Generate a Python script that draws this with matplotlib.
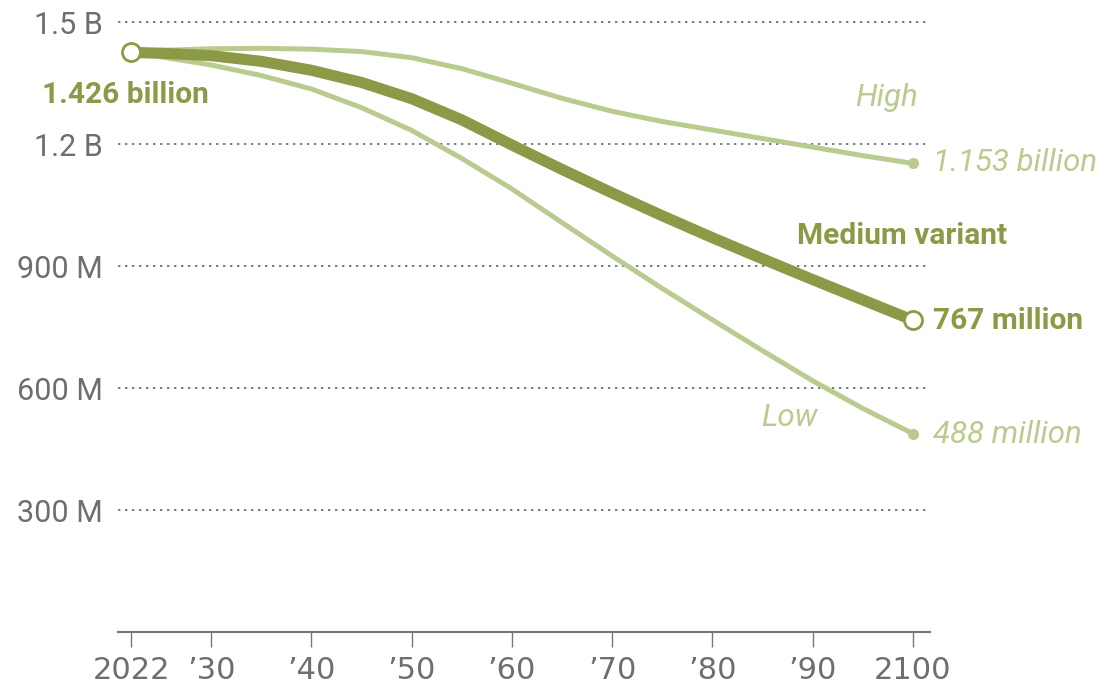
import numpy as np
import matplotlib
matplotlib.use("Agg")
import matplotlib.pyplot as plt

# projections (millions of people)
years = [2022, 2025, 2030, 2035, 2040, 2045, 2050, 2055, 2060,
         2065, 2070, 2075, 2080, 2085, 2090, 2095, 2100]
medium = [1426, 1424, 1418, 1404, 1382, 1352, 1312, 1260, 1198,
          1138, 1080, 1024, 970, 918, 867, 817, 767]
high = [1426, 1431, 1435, 1436, 1434, 1428, 1413, 1386, 1350,
        1313, 1281, 1256, 1235, 1214, 1193, 1172, 1153]
low = [1426, 1415, 1395, 1369, 1336, 1290, 1234, 1165, 1090,
       1007, 925, 845, 768, 692, 618, 550, 488]

xticks = [2022, 2030, 2040, 2050, 2060, 2070, 2080, 2090, 2100]
xticklabels = ["2022", "\u201930", "\u201940", "\u201950", "\u201960",
               "\u201970", "\u201980", "\u201990", "2100"]
yticks = [300e6, 600e6, 900e6, 1.2e9, 1.5e9]
yticklabels = ["300 M", "600 M", "900 M", "1.2 B", "1.5 B"]

dark = "#8c9a47"
light = "#bacb90"
gray = "#6e6e6e"

medium = np.array(medium) * 1e6
high = np.array(high) * 1e6
low = np.array(low) * 1e6

plt.rcParams['font.family'] = ['Roboto', 'DejaVu Sans']

fig = plt.figure(figsize=(11.09, 6.86), dpi=100)
ax = fig.add_axes([118 / 1109, 54 / 686, 812 / 1109, 630 / 686])

for y in yticks:
    ax.axhline(y, color="#7a7a80", lw=1.4, ls=(0, (1.2, 2.4)), zorder=1)

ax.plot(years, high, color=light, lw=3.6, solid_joinstyle="round",
        solid_capstyle="round", zorder=2)
ax.plot(years, low, color=light, lw=3.6, solid_joinstyle="round",
        solid_capstyle="round", zorder=2)
ax.plot(years, medium, color=dark, lw=8, solid_joinstyle="round",
        solid_capstyle="round", zorder=3)

ax.plot([years[-1]], [high[-1]], "o", color=light, ms=7, zorder=4)
ax.plot([years[-1]], [low[-1]], "o", color=light, ms=7, zorder=4)
ax.plot([years[0], years[-1]], [medium[0], medium[-1]], "o", ms=13,
        mfc="white", mec=dark, mew=2, zorder=5)

ax.set_xlim(2020.7, 2101.7)
ax.set_ylim(0, 1.55e9)

for s in ["top", "right", "left"]:
    ax.spines[s].set_visible(False)
ax.spines["bottom"].set_color("#777777")
ax.spines["bottom"].set_linewidth(1.5)

ax.set_xticks(xticks)
ax.set_xticklabels(xticklabels, family=["Liberation Sans Narrow", "DejaVu Sans"])
ax.set_yticks(yticks)
ax.set_yticklabels(yticklabels)
ax.tick_params(axis="x", length=11, width=1, color="#777777", labelsize=22,
               labelcolor=gray, pad=6)
ax.tick_params(axis="y", length=0, labelsize=22, labelcolor=gray, pad=11)

# labels
ax.text(2013.1, 1.32e9, "1.426 billion", color=dark, fontsize=21.5,
        fontweight="bold", ha="left", va="center")
ax.text(2100.5, 1.315e9, "High", color=light, fontsize=22.5, style="italic",
        ha="right", va="center")
ax.text(2102.0, 1.155e9, "1.153 billion", color=light, fontsize=22.5,
        style="italic", ha="left", va="center")
ax.text(2098.9, 975e6, "Medium variant", color=dark, fontsize=21.5,
        fontweight="bold", ha="center", va="center")
ax.text(2102.0, 765e6, "767 million", color=dark, fontsize=21.5,
        fontweight="bold", ha="left", va="center")
ax.text(2087.7, 528e6, "Low", color=light, fontsize=22.5, style="italic",
        ha="center", va="center")
ax.text(2102.0, 485e6, "488 million", color=light, fontsize=22.5,
        style="italic", ha="left", va="center")

fig.savefig("out.png", dpi=100)
